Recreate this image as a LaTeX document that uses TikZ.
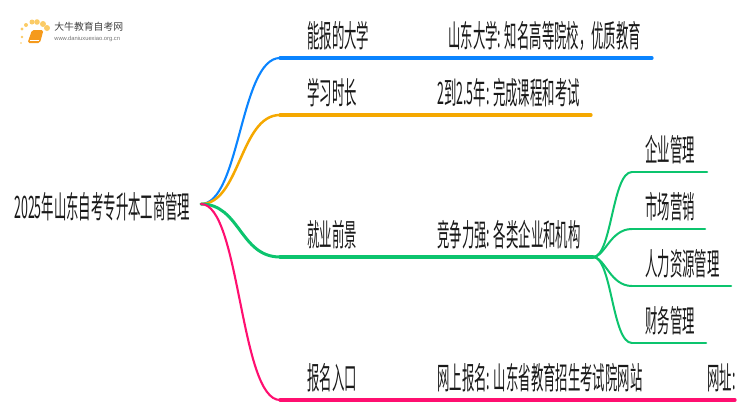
\documentclass[tikz,border=0pt]{standalone}
\usepackage{fontspec}
\setmainfont{Liberation Sans}
\newfontfamily\cjk[FakeStretch=0.4]{Noto Sans CJK SC}
\newfontfamily\cjklogo{Noto Sans CJK SC}
\definecolor{bluebranch}{HTML}{0A84FF}
\definecolor{orangebranch}{HTML}{F5A800}
\definecolor{greenbranch}{HTML}{0CC46E}
\definecolor{pinkbranch}{HTML}{FF0F70}
\definecolor{bookorange}{HTML}{F59A1C}
\definecolor{dotyellow}{HTML}{FBCB66}
\tikzset{
  label/.style={anchor=base west, inner sep=0pt, font=\cjk\fontsize{17.6}{20}\selectfont, text=black!90},
  branch/.style={line width=0.065cm, line cap=round},
  limb/.style={line width=0.042cm, line cap=round},
  leaf/.style={line width=0.05cm, line cap=round, greenbranch},
  twig/.style={line width=0.04cm, line cap=round, greenbranch}
}
\begin{document}
\begin{tikzpicture}[x=0.02cm, y=-0.02cm]
    \useasboundingbox (0,0) rectangle (750,410);

    % 标志
    \foreach \px/\py/\ds in {21/43/0.8, 22/37/1.3, 22/29/1.7, 26/25/2, 32/22/2.5, 37/22/2.8, 43/24/3, 47/28/3}
      \fill[dotyellow] (\px,\py) circle[radius=\ds];
    \fill[bookorange, rounded corners=1pt] (32,30) -- (43.5,30) -- (40,43) -- (27.5,43) -- cycle;
    \draw[white, line width=0.3pt] (29.5,40.5) -- (39,40.5);
    \node[anchor=west, inner sep=0pt, font=\cjklogo\fontsize{5.6}{6}\selectfont, text=black!75] (logotitle) at (54,26.5) {大牛教育自考网};
    \node[anchor=west, inner sep=0pt, font=\fontsize{3.3}{4}\selectfont, text=black!55] (logourl) at (54,38.5) {www.daniuxuexiao.org.cn};

    % 中心节点
    \node[label] (root) at (14,218) {2025年山东自考专升本工商管理};
    \coordinate (hub) at (201,204);

    % 第一层
    \node[label] (uni) at (307,47) {能报的大学};
    \node[label] (unitext) at (448,47) {山东大学: 知名高等院校，优质教育};
    \node[label] (time) at (307,104) {学习时长};
    \node[label] (timetext) at (437,104) {2到2.5年: 完成课程和考试};
    \node[label] (job) at (307,246) {就业前景};
    \node[label] (jobtext) at (437,246) {竞争力强: 各类企业和机构};
    \node[label] (apply) at (307,389) {报名入口};
    \node[label] (applytext) at (437,389) {网上报名: 山东省教育招生考试院网站};
    \node[label] (site) at (707,389) {网址:};

    % 第二层
    \node[label] (leaf1) at (645,161.5) {企业管理};
    \node[label] (leaf2) at (645,218) {市场营销};
    \node[label] (leaf3) at (645,275) {人力资源管理};
    \node[label] (leaf4) at (645,332) {财务管理};

    % 分支端点
    \coordinate (blueknee) at (280,58);
    \coordinate (blueend) at (652,58);
    \coordinate (orangeknee) at (280,115);
    \coordinate (orangeend) at (591,115);
    \coordinate (greenknee) at (280,257);
    \coordinate (greenend) at (593,257);
    \coordinate (pinkknee) at (280,400);
    \coordinate (pinkend) at (735,400);

    % 分支
    \draw[limb, bluebranch] (hub) .. controls (240,204) and (240,58) .. (blueknee);
    \draw[branch, bluebranch] (blueknee) -- (blueend);
    \draw[limb, orangebranch, line width=0.05cm] (hub) .. controls (240,204) and (240,115) .. (orangeknee);
    \draw[branch, orangebranch] (orangeknee) -- (orangeend);
    \draw[limb, greenbranch, line width=0.06cm] (hub) .. controls (240,204) and (240,257) .. (greenknee);
    \draw[branch, greenbranch] (greenknee) -- (greenend);
    \draw[limb, pinkbranch] (hub) .. controls (240,204) and (240,400) .. (pinkknee);
    \draw[branch, pinkbranch] (pinkknee) -- (pinkend);

    % 叶子连线
    \coordinate (leafknee1) at (632,172);
    \coordinate (leafknee2) at (632,229);
    \coordinate (leafknee3) at (632,286);
    \coordinate (leafknee4) at (632,343);
    \coordinate (leafend1) at (707,172);
    \coordinate (leafend2) at (705,229);
    \coordinate (leafend3) at (731,286);
    \coordinate (leafend4) at (706,343);
    \draw[twig] (greenend) .. controls (612,257) and (612,172) .. (leafknee1);
    \draw[twig] (greenend) .. controls (605,257) and (610,229) .. (leafknee2);
    \draw[twig] (greenend) .. controls (605,257) and (610,286) .. (leafknee3);
    \draw[twig] (greenend) .. controls (612,257) and (612,343) .. (leafknee4);
    \draw[leaf] (leafknee1) -- (leafend1);
    \draw[leaf] (leafknee2) -- (leafend2);
    \draw[leaf] (leafknee3) -- (leafend3);
    \draw[leaf] (leafknee4) -- (leafend4);
\end{tikzpicture}
\end{document}
